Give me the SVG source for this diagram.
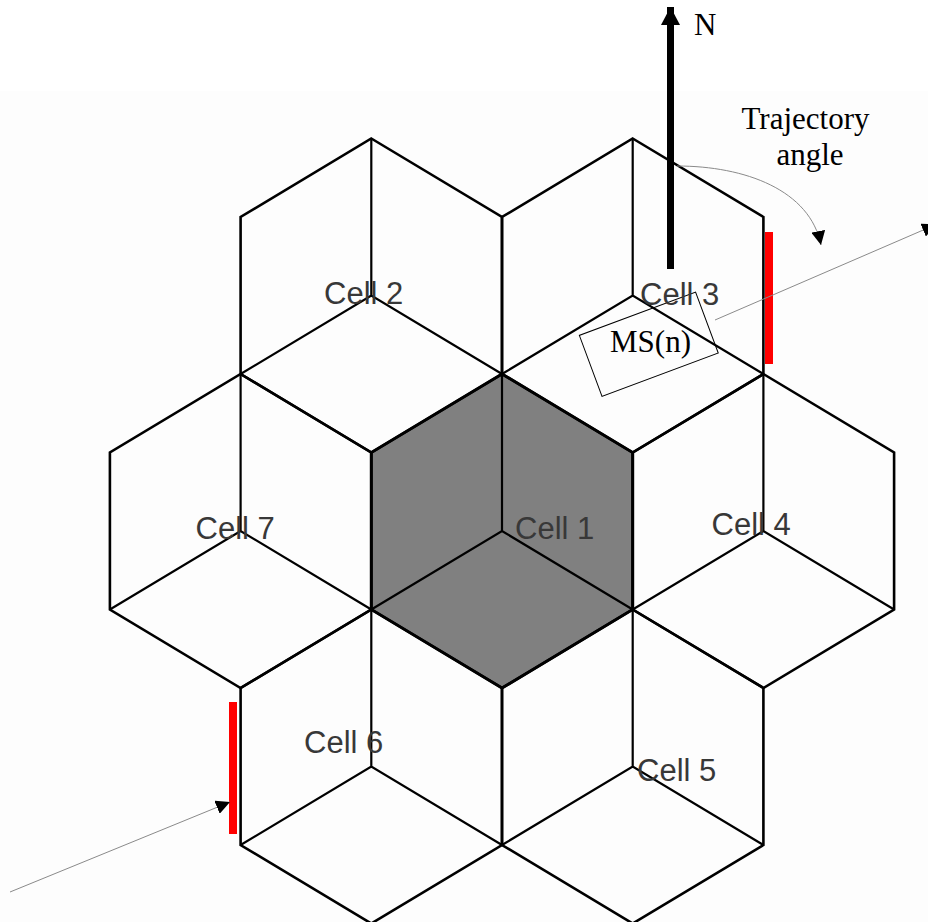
<svg xmlns="http://www.w3.org/2000/svg" width="928" height="922" viewBox="0 0 928 922">
  <style>
    .hex { stroke: #000; stroke-width: 2.6; stroke-linejoin: miter; fill: none; }
    .hex1 { stroke: #000; stroke-width: 3; fill: #808080; }
    .cube { stroke: #000; stroke-width: 2.2; fill: none; }
    .lbl { font-family: "Liberation Sans", Arial, sans-serif; font-size: 31px; fill: #383838; }
    .tms { font-family: "Liberation Serif", "Times New Roman", serif; font-size: 31px; fill: #000; }
    .thin { stroke: #8a8a8a; stroke-width: 1; fill: none; }
    .red { fill: #ff0000; }
  </style>
  <defs>
    <marker id="ah" markerUnits="userSpaceOnUse" viewBox="0 0 14 14" refX="14" refY="7" markerWidth="14" markerHeight="14" orient="auto">
      <path d="M0,0 L14,7 L0,14 Z" fill="#000"/>
    </marker>
    <marker id="ahN" markerUnits="userSpaceOnUse" viewBox="0 0 18 19" refX="18" refY="9.5" markerWidth="18" markerHeight="19" orient="auto">
      <path d="M0,0 L18,9.5 L0,19 Z" fill="#000"/>
    </marker>
  </defs>

  <rect x="0" y="91" width="928" height="831" fill="#fdfdfd"/>

  <g id="cell1">
    <polygon class="hex1" points="502,374 632.7,452.5 632.7,609.5 502,688 371.3,609.5 371.3,452.5"/>
    <path class="cube" d="M502,374 V531 M371.3,609.5 L502,531 L632.7,609.5"/>
  </g>
  <g id="cell2">
    <polygon class="hex" points="371.3,138.5 502,217 502,374 371.3,452.5 240.6,374 240.6,217"/>
    <path class="cube" d="M371.3,138.5 V295.5 M240.6,374 L371.3,295.5 L502,374"/>
  </g>
  <g id="cell3">
    <polygon class="hex" points="632.7,138.5 763.4,217 763.4,374 632.7,452.5 502,374 502,217"/>
    <path class="cube" d="M632.7,138.5 V295.5 M502,374 L632.7,295.5 L763.4,374"/>
  </g>
  <g id="cell4">
    <polygon class="hex" points="763.4,374 894.1,452.5 894.1,609.5 763.4,688 632.7,609.5 632.7,452.5"/>
    <path class="cube" d="M763.4,374 V531 M632.7,609.5 L763.4,531 L894.1,609.5"/>
  </g>
  <g id="cell5">
    <polygon class="hex" points="632.7,609.5 763.4,688 763.4,845 632.7,923.5 502,845 502,688"/>
    <path class="cube" d="M632.7,609.5 V766.5 M502,845 L632.7,766.5 L763.4,845"/>
  </g>
  <g id="cell6">
    <polygon class="hex" points="371.3,609.5 502,688 502,845 371.3,923.5 240.6,845 240.6,688"/>
    <path class="cube" d="M371.3,609.5 V766.5 M240.6,845 L371.3,766.5 L502,845"/>
  </g>
  <g id="cell7">
    <polygon class="hex" points="240.6,374 371.3,452.5 371.3,609.5 240.6,688 109.9,609.5 109.9,452.5"/>
    <path class="cube" d="M240.6,374 V531 M109.9,609.5 L240.6,531 L371.3,609.5"/>
  </g>

  <g id="handoff-edges">
    <rect class="red" x="765" y="232" width="8" height="132"/>
    <rect class="red" x="229" y="702" width="8" height="132"/>
  </g>

  <g id="ms">
    <rect x="586.8" y="311.7" width="124" height="65" fill="none" stroke="#000" stroke-width="1" transform="rotate(-20.4 648.8 344.2)"/>
    <text class="tms" x="610" y="352">MS(n)</text>
  </g>

  <g id="connectors">
    <line x1="670.5" y1="269" x2="670.5" y2="7" stroke="#000" stroke-width="7" marker-end="url(#ahN)"/>
    <path class="thin" d="M677,166 C745,166 810,190 821,245" marker-end="url(#ah)"/>
    <line class="thin" x1="715" y1="320" x2="936" y2="224.5" marker-end="url(#ah)"/>
    <line class="thin" x1="10" y1="892" x2="230" y2="802" marker-end="url(#ah)"/>
  </g>

  <g id="labels">
    <text class="lbl" x="515" y="539">Cell 1</text>
    <text class="lbl" x="324" y="304">Cell 2</text>
    <text class="lbl" x="640" y="305">Cell 3</text>
    <text class="lbl" x="711.5" y="535">Cell 4</text>
    <text class="lbl" x="637" y="781">Cell 5</text>
    <text class="lbl" x="304" y="753">Cell 6</text>
    <text class="lbl" x="195.5" y="539">Cell 7</text>
    <text class="tms" x="694" y="35">N</text>
    <text class="tms" x="741.5" y="129">Trajectory</text>
    <text class="tms" x="776.5" y="165">angle</text>
  </g>
</svg>
